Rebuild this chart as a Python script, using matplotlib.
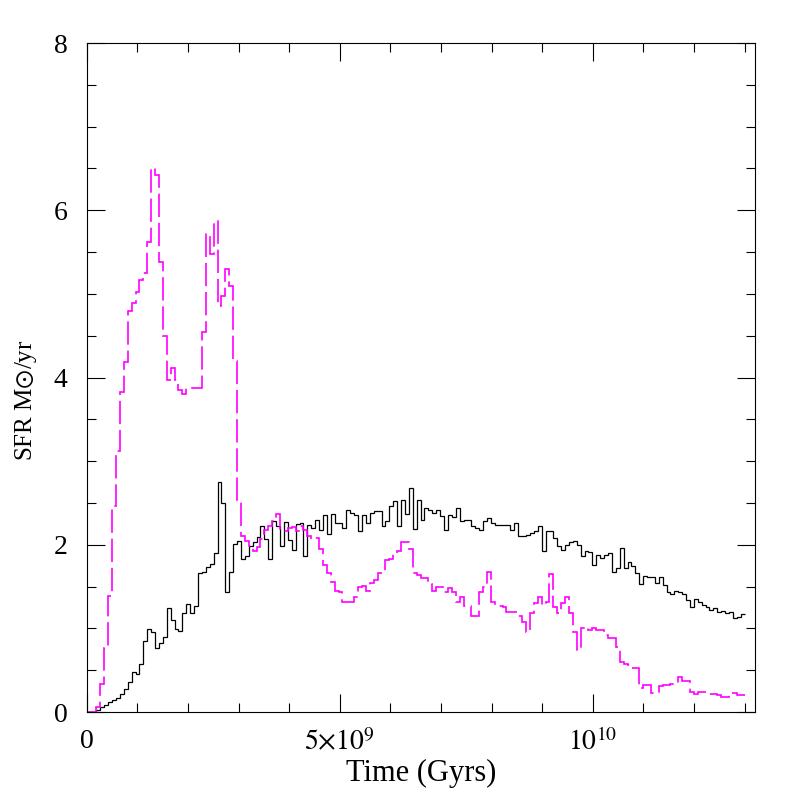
import numpy as np
import matplotlib
matplotlib.use('Agg')
import matplotlib.pyplot as plt
from matplotlib.ticker import MultipleLocator, FixedLocator

# star formation rate per time bin (M_sun / yr)
t_start = 0.19e9   # first bin edge after the empty bin at t=0
t_end = 13.0e9     # last bin edge

sfr_black = [
    0.02, 0.06, 0.09, 0.12, 0.14, 0.17, 0.22, 0.28, 0.36, 0.48,
    0.45, 0.57, 0.85, 0.99, 0.96, 0.76, 0.82, 0.90, 1.25, 1.10,
    0.99, 0.97, 1.18, 1.29, 1.18, 1.27, 1.66, 1.68, 1.74, 1.77,
    1.90, 2.75, 2.50, 1.44, 1.67, 2.01, 2.04, 1.83, 1.86, 1.98,
    2.03, 2.09, 2.23, 2.07, 1.83, 2.28, 2.22, 1.98, 2.27, 2.06,
    1.94, 2.25, 2.26, 1.87, 2.24, 2.20, 2.30, 2.18, 2.36, 2.13,
    2.37, 2.26, 2.26, 2.20, 2.42, 2.38, 2.36, 2.17, 2.36, 2.26,
    2.38, 2.40, 2.41, 2.22, 2.29, 2.46, 2.52, 2.22, 2.54, 2.37,
    2.68, 2.19, 2.54, 2.30, 2.44, 2.42, 2.38, 2.42, 2.34, 2.18,
    2.36, 2.33, 2.44, 2.28, 2.30, 2.30, 2.22, 2.20, 2.18, 2.28,
    2.32, 2.26, 2.24, 2.24, 2.24, 2.24, 2.18, 2.26, 2.10, 2.10,
    2.12, 2.14, 2.16, 2.22, 1.93, 2.16, 2.16, 2.08, 1.98, 1.94,
    2.00, 2.03, 2.04, 2.00, 1.86, 1.92, 1.91, 1.76, 1.88, 1.84,
    1.88, 1.90, 1.68, 1.72, 1.96, 1.72, 1.79, 1.75, 1.66, 1.53,
    1.63, 1.62, 1.62, 1.54, 1.61, 1.52, 1.44, 1.41, 1.45, 1.44,
    1.41, 1.34, 1.26, 1.35, 1.32, 1.28, 1.26, 1.22, 1.24, 1.20,
    1.21, 1.19, 1.20, 1.12, 1.14, 1.17,
]

sfr_magenta = [
    0.06, 0.33, 0.76, 1.39, 2.46, 3.12, 3.83, 4.19, 4.80, 4.89,
    5.02, 5.17, 5.25, 5.62, 6.51, 6.42, 5.38, 4.50, 3.97, 4.12,
    3.97, 3.85, 3.80, 3.87, 3.87, 3.87, 3.87, 4.55, 5.72, 5.48,
    5.87, 4.85, 4.97, 5.30, 5.09, 4.20, 2.52, 2.11, 2.04, 1.99,
    1.93, 1.97, 2.07, 2.18, 2.22, 2.28, 2.37, 2.17, 2.17, 2.20,
    2.21, 2.17, 2.22, 2.18, 2.11, 2.07, 2.08, 1.95, 1.76, 1.66,
    1.56, 1.45, 1.43, 1.31, 1.31, 1.31, 1.38, 1.49, 1.51, 1.45,
    1.54, 1.58, 1.66, 1.67, 1.82, 1.83, 1.89, 1.93, 2.03, 2.03,
    1.95, 1.66, 1.64, 1.60, 1.60, 1.53, 1.45, 1.50, 1.50, 1.44,
    1.48, 1.43, 1.32, 1.38, 1.27, 1.27, 1.15, 1.15, 1.43, 1.50,
    1.68, 1.32, 1.27, 1.27, 1.26, 1.20, 1.20, 1.20, 1.15, 1.08,
    0.96, 1.18, 1.30, 1.38, 1.28, 1.32, 1.65, 1.26, 1.18, 1.30,
    1.38, 1.18, 0.96, 0.74, 1.00, 1.02, 0.98, 1.00, 0.98, 0.98,
    0.92, 0.89, 0.89, 0.78, 0.60, 0.57, 0.56, 0.53, 0.53, 0.29,
    0.32, 0.32, 0.23, 0.23, 0.31, 0.32, 0.32, 0.33, 0.33, 0.42,
    0.37, 0.37, 0.24, 0.22, 0.24, 0.24, 0.23, 0.22, 0.22, 0.20,
    0.18, 0.18, 0.23, 0.23, 0.20, 0.20,
]

xtick_pos = [0, 5e9, 1e10]
xtick_lab = ['0', r'$5{\times}10^9$', r'$10^{10}$']
ytick_pos = [0, 2, 4, 6, 8]

# bin edges: an empty bin from 0 up to t_start, then equal bins
n = len(sfr_black)
edges = np.concatenate([[0.0], np.linspace(t_start, t_end, n + 1)])
black = np.concatenate([[0.0], sfr_black])
magenta = np.concatenate([[0.0], sfr_magenta])

plt.rcParams['font.family'] = ['Liberation Serif', 'DejaVu Serif']
plt.rcParams['mathtext.fontset'] = 'stix'

fig = plt.figure(figsize=(7.97, 7.97), dpi=100)
ax = fig.add_axes([0.109, 0.1066, 0.838, 0.8394])

ax.stairs(black, edges, baseline=None, color='black', lw=0.9)
ax.stairs(magenta, edges, baseline=None, color='#ff00ff', lw=1.2,
          linestyle=(0, (14, 3.5)))

ax.set_xlim(0, 1.32e10)
ax.set_ylim(0, 8)
ax.xaxis.set_major_locator(FixedLocator(xtick_pos))
ax.set_xticklabels(xtick_lab)
ax.xaxis.set_minor_locator(MultipleLocator(1e9))
ax.yaxis.set_major_locator(FixedLocator(ytick_pos))
ax.yaxis.set_minor_locator(MultipleLocator(0.5))

ax.tick_params(which='both', direction='in', top=True, right=True,
               labelsize=20, width=0.8)
ax.tick_params(axis='x', pad=12)
ax.tick_params(axis='y', pad=14)
ax.tick_params(which='major', length=13)
ax.tick_params(which='minor', length=6.5)
for s in ax.spines.values():
    s.set_linewidth(0.8)

ax.set_xlabel('Time (Gyrs)', fontsize=22)
ax.set_ylabel(r'SFR M$\odot$/yr', fontsize=18)
ax.xaxis.set_label_coords(0.5, -0.07)
ax.yaxis.set_label_coords(-0.072, 0.466)

fig.savefig('out.png', dpi=100)
